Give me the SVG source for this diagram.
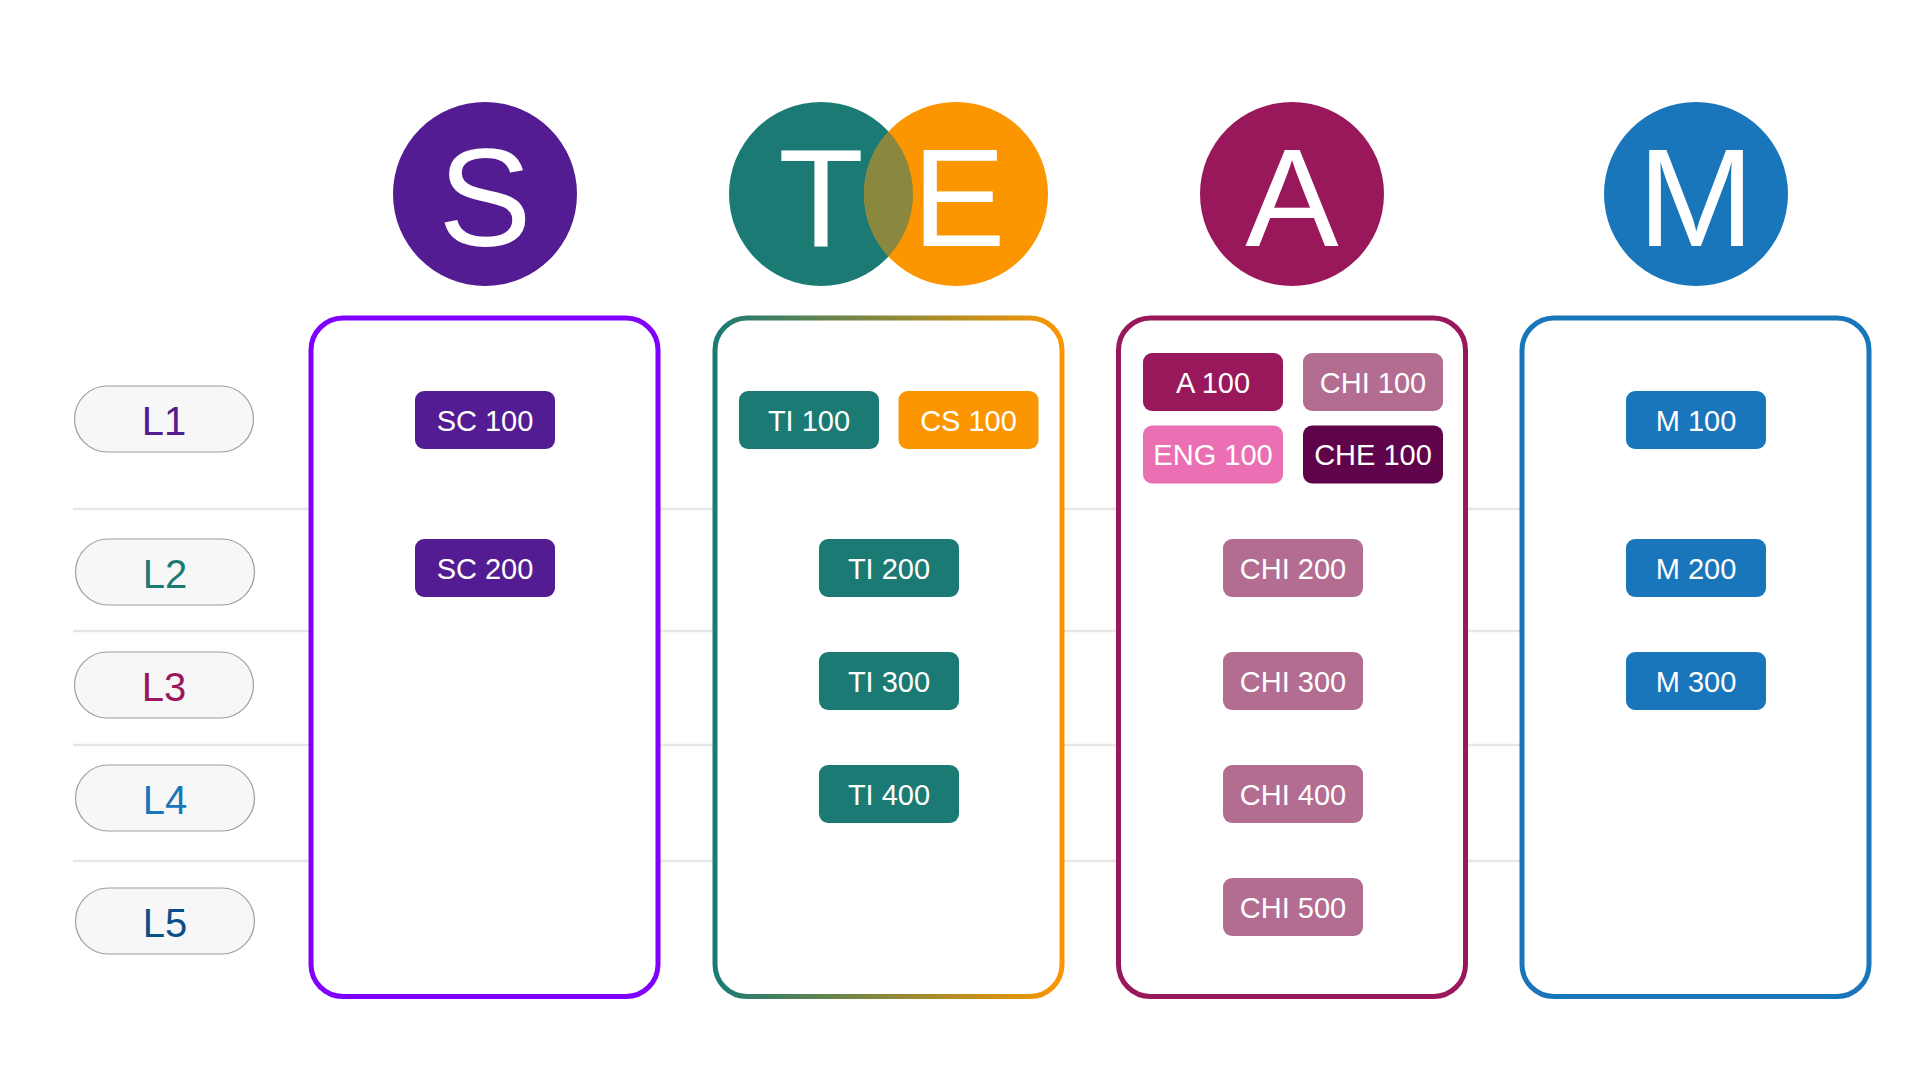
<svg xmlns="http://www.w3.org/2000/svg" width="1920" height="1080" viewBox="0 0 1920 1080">
  <style>
    text { font-family: "Liberation Sans", Arial, Helvetica, sans-serif; }
    .big { font-size: 140px; fill: #FFFFFF; text-anchor: middle; }
    .chip-t { font-size: 29px; fill: #FFFFFF; text-anchor: middle; }
    .lvl-t { font-size: 40px; text-anchor: middle; }
    .pill { fill: #F7F7F7; stroke: #9E9E9E; stroke-width: 1.2; }
    .box { fill: #FFFFFF; stroke-width: 5; }
    .grid { stroke: #E6E6E6; stroke-width: 2.5; fill: none; }
  </style>
  <defs>
    <linearGradient id="teGrad" gradientUnits="userSpaceOnUse" x1="715" y1="0" x2="1062" y2="0">
      <stop offset="0" stop-color="#1B7B74"/>
      <stop offset="1" stop-color="#FC9600"/>
    </linearGradient>
    <clipPath id="tClip">
      <circle cx="821" cy="194" r="92"/>
    </clipPath>
    <rect id="chip" x="-70" y="-29" width="140" height="58" rx="9" ry="9"/>
  </defs>

  <rect x="0" y="0" width="1920" height="1080" fill="#FFFFFF"/>

  <g id="connectors">
    <line class="grid" x1="73" y1="509" x2="1522" y2="509"/>
    <line class="grid" x1="73" y1="631" x2="1522" y2="631"/>
    <line class="grid" x1="73" y1="745" x2="1522" y2="745"/>
    <line class="grid" x1="73" y1="861" x2="1522" y2="861"/>
  </g>

  <g id="levels">
    <g id="L1"><rect class="pill" x="74.5" y="386" width="179" height="66" rx="33"/><text class="lvl-t" x="164" y="434.5" fill="#531C91">L1</text></g>
    <g id="L2"><rect class="pill" x="75.5" y="539" width="179" height="66" rx="33"/><text class="lvl-t" x="165" y="587.5" fill="#1B7B74">L2</text></g>
    <g id="L3"><rect class="pill" x="74.5" y="652" width="179" height="66" rx="33"/><text class="lvl-t" x="164" y="700.5" fill="#99185B">L3</text></g>
    <g id="L4"><rect class="pill" x="75.5" y="765" width="179" height="66" rx="33"/><text class="lvl-t" x="165" y="813.5" fill="#1976BB">L4</text></g>
    <g id="L5"><rect class="pill" x="75.5" y="888" width="179" height="66" rx="33"/><text class="lvl-t" x="165" y="936.5" fill="#0B4F87">L5</text></g>
  </g>

  <g id="header-S">
    <circle cx="485" cy="194" r="92" fill="#541C92"/>
    <text class="big" x="485" y="246">S</text>
  </g>
  <g id="header-TE">
    <circle cx="821" cy="194" r="92" fill="#1B7B74"/>
    <circle cx="956" cy="194" r="92" fill="#FC9600"/>
    <circle cx="956" cy="194" r="92" fill="#8A873E" clip-path="url(#tClip)"/>
    <text class="big" x="821" y="246">T</text>
    <text class="big" x="959" y="246">E</text>
  </g>
  <g id="header-A">
    <circle cx="1292" cy="194" r="92" fill="#99185B"/>
    <text class="big" x="1292" y="246">A</text>
  </g>
  <g id="header-M">
    <circle cx="1696" cy="194" r="92" fill="#1976BB"/>
    <text class="big" x="1696" y="246">M</text>
  </g>

  <g id="column-S">
    <rect class="box" x="311" y="318" width="347" height="678.5" rx="32" stroke="#7F00FF"/>
    <g id="SC100" transform="translate(485,420)"><use href="#chip" fill="#541C92"/><text class="chip-t" y="10.5">SC 100</text></g>
    <g id="SC200" transform="translate(485,568)"><use href="#chip" fill="#541C92"/><text class="chip-t" y="10.5">SC 200</text></g>
  </g>

  <g id="column-TE">
    <rect class="box" x="715" y="318" width="347" height="678.5" rx="32" stroke="url(#teGrad)"/>
    <g id="TI100" transform="translate(809,420)"><use href="#chip" fill="#1B7B74"/><text class="chip-t" y="10.5">TI 100</text></g>
    <g id="CS100" transform="translate(968.5,420)"><use href="#chip" fill="#FC9600"/><text class="chip-t" y="10.5">CS 100</text></g>
    <g id="TI200" transform="translate(889,568)"><use href="#chip" fill="#1B7B74"/><text class="chip-t" y="10.5">TI 200</text></g>
    <g id="TI300" transform="translate(889,681)"><use href="#chip" fill="#1B7B74"/><text class="chip-t" y="10.5">TI 300</text></g>
    <g id="TI400" transform="translate(889,794)"><use href="#chip" fill="#1B7B74"/><text class="chip-t" y="10.5">TI 400</text></g>
  </g>

  <g id="column-A">
    <rect class="box" x="1118.5" y="318" width="347" height="678.5" rx="32" stroke="#99185B"/>
    <g id="A100" transform="translate(1213,382)"><use href="#chip" fill="#99185B"/><text class="chip-t" y="10.5">A 100</text></g>
    <g id="CHI100" transform="translate(1373,382)"><use href="#chip" fill="#B36D91"/><text class="chip-t" y="10.5">CHI 100</text></g>
    <g id="ENG100" transform="translate(1213,454.5)"><use href="#chip" fill="#EA70B3"/><text class="chip-t" y="10.5">ENG 100</text></g>
    <g id="CHE100" transform="translate(1373,454.5)"><use href="#chip" fill="#5F044B"/><text class="chip-t" y="10.5">CHE 100</text></g>
    <g id="CHI200" transform="translate(1293,568)"><use href="#chip" fill="#B36D91"/><text class="chip-t" y="10.5">CHI 200</text></g>
    <g id="CHI300" transform="translate(1293,681)"><use href="#chip" fill="#B36D91"/><text class="chip-t" y="10.5">CHI 300</text></g>
    <g id="CHI400" transform="translate(1293,794)"><use href="#chip" fill="#B36D91"/><text class="chip-t" y="10.5">CHI 400</text></g>
    <g id="CHI500" transform="translate(1293,907)"><use href="#chip" fill="#B36D91"/><text class="chip-t" y="10.5">CHI 500</text></g>
  </g>

  <g id="column-M">
    <rect class="box" x="1522" y="318" width="347" height="678.5" rx="32" stroke="#1976BB"/>
    <g id="M100" transform="translate(1696,420)"><use href="#chip" fill="#1976BB"/><text class="chip-t" y="10.5">M 100</text></g>
    <g id="M200" transform="translate(1696,568)"><use href="#chip" fill="#1976BB"/><text class="chip-t" y="10.5">M 200</text></g>
    <g id="M300" transform="translate(1696,681)"><use href="#chip" fill="#1976BB"/><text class="chip-t" y="10.5">M 300</text></g>
  </g>
</svg>
